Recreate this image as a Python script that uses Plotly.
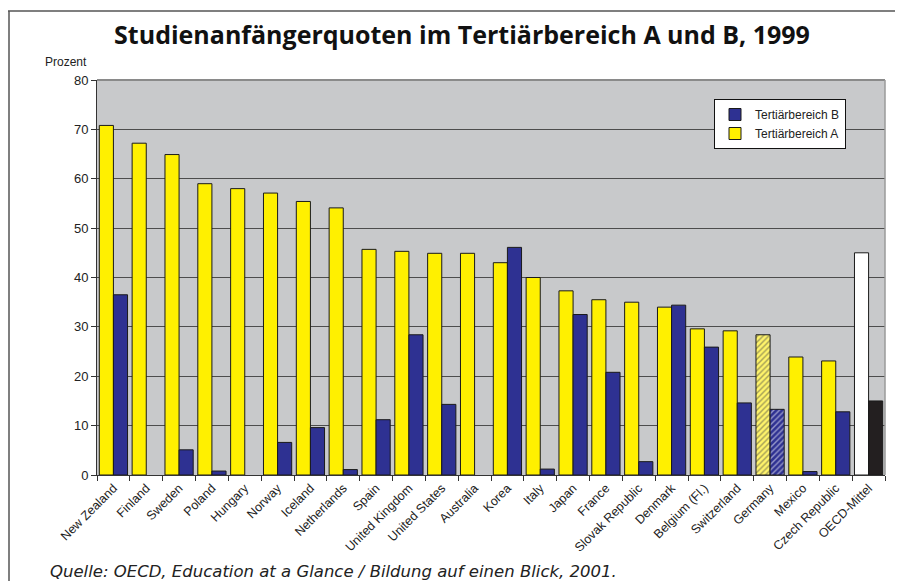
import plotly.graph_objects as go

countries = ["New Zealand", "Finland", "Sweden", "Poland", "Hungary", "Norway", "Iceland",
             "Netherlands", "Spain", "United Kingdom", "United States", "Australia", "Korea",
             "Italy", "Japan", "France", "Slovak Republic", "Denmark", "Belgium (Fl.)",
             "Switzerland", "Germany", "Mexico", "Czech Republic", "OECD-Mittel"]
tert_a = [70.8, 67.2, 64.9, 59.0, 58.0, 57.1, 55.4, 54.1, 45.7, 45.3, 44.9, 44.9, 43.0,
          40.0, 37.3, 35.5, 35.0, 34.0, 29.6, 29.2, 28.4, 23.9, 23.1, 45.0]
tert_b = [36.5, None, 5.1, 0.8, None, 6.6, 9.6, 1.1, 11.2, 28.4, 14.3, None, 46.1,
          1.2, 32.5, 20.8, 2.7, 34.4, 25.9, 14.6, 13.3, 0.7, 12.8, 15.0]
y_ticks = [0, 10, 20, 30, 40, 50, 60, 70, 80]

YELLOW = "#fff000"
BLUE = "#2e3192"
col_a = [YELLOW] * len(countries)
col_b = [BLUE] * len(countries)
pat_a = [""] * len(countries)
pat_b = [""] * len(countries)
gi = countries.index("Germany")
oi = countries.index("OECD-Mittel")
col_a[gi] = "#fff46a"
pat_a[gi] = "/"
pat_b[gi] = "/"
col_a[oi] = "#ffffff"
col_b[oi] = "#231f20"

fig = go.Figure()
fig.add_trace(go.Bar(
    x=countries, y=tert_a, name="Tertiärbereich A",
    marker=dict(color=col_a, line=dict(color="#1a1a1a", width=1),
                pattern=dict(shape=pat_a, fillmode="overlay", fgcolor="#d9cf60", size=4, solidity=0.35)),
))
fig.add_trace(go.Bar(
    x=countries, y=tert_b, name="Tertiärbereich B",
    marker=dict(color=col_b, line=dict(color="#1a1a1a", width=1),
                pattern=dict(shape=pat_b, fillmode="overlay", fgcolor="#16174a", size=4, solidity=0.35)),
))

# the page shows the figure offset by the 8px body margin
OFF = 8
W, H = 903, 581
L, T = 97 - OFF, 80 - OFF
pw, ph = 788, 395
R, B = W - L - pw, H - T - ph

def px(x):
    return (x - OFF - L) / pw

def py(y):
    return (T + ph - (y - OFF)) / ph

fig.update_layout(
    width=W, height=H,
    margin=dict(l=L, r=R, t=T, b=B),
    paper_bgcolor="white",
    plot_bgcolor="#c8c9cb",
    barmode="group",
    bargap=0.14,
    bargroupgap=0,
    font=dict(family="Liberation Sans, Arial", size=12, color="#222"),
    title=dict(text="<b>Studienanfängerquoten im Tertiärbereich A und B, 1999</b>",
               x=(462 - OFF) / W, xanchor="center", y=1 - (35 - OFF) / H, yanchor="middle",
               font=dict(family="Open Sans", size=25, color="#111")),
    legend=dict(x=px(714), y=py(99), xanchor="left", yanchor="top",
                bgcolor="white", bordercolor="#111", borderwidth=1,
                traceorder="reversed", font=dict(size=12, color="#222"),
                itemwidth=30, tracegroupgap=0),
    xaxis=dict(type="category", tickangle=-45, ticks="outside", ticklen=5,
               tickcolor="#333", tickson="boundaries", showline=True,
               linecolor="#333", linewidth=1, showgrid=False,
               tickfont=dict(size=12.5, color="#222")),
    yaxis=dict(range=[0, 80], tickvals=y_ticks, ticks="outside", ticklen=5,
               tickcolor="#333", showline=True, linecolor="#333", linewidth=1,
               gridcolor="#4d4d4d", gridwidth=1, zeroline=False,
               tickfont=dict(size=13, color="#222")),
    showlegend=True,
)

# plot-area top/right border
fig.add_shape(type="line", xref="paper", yref="paper", x0=0, x1=1, y0=1, y1=1,
              line=dict(color="#8a8a8a", width=2))
fig.add_shape(type="line", xref="paper", yref="paper", x0=1, x1=1, y0=0, y1=1,
              line=dict(color="#9a9a9a", width=1.5))
# outer frame
fig.add_shape(type="line", xref="paper", yref="paper", x0=px(5), x1=px(903), y0=py(11), y1=py(11),
              line=dict(color="#555", width=1.5))
fig.add_shape(type="line", xref="paper", yref="paper", x0=px(9), x1=px(9), y0=py(11), y1=py(581),
              line=dict(color="#555", width=1.5))

fig.add_annotation(text="Prozent", xref="paper", yref="paper", x=px(89), y=py(62),
                   xanchor="right", yanchor="middle", showarrow=False,
                   font=dict(size=12, color="#222"))
fig.add_annotation(text="<i>Quelle: OECD, Education at a Glance / Bildung auf einen Blick, 2001.</i>",
                   xref="paper", yref="paper", x=px(48), y=py(571),
                   xanchor="left", yanchor="middle", showarrow=False,
                   font=dict(family="DejaVu Sans", size=16.5, color="#222"))

fig.write_html("out.html")
